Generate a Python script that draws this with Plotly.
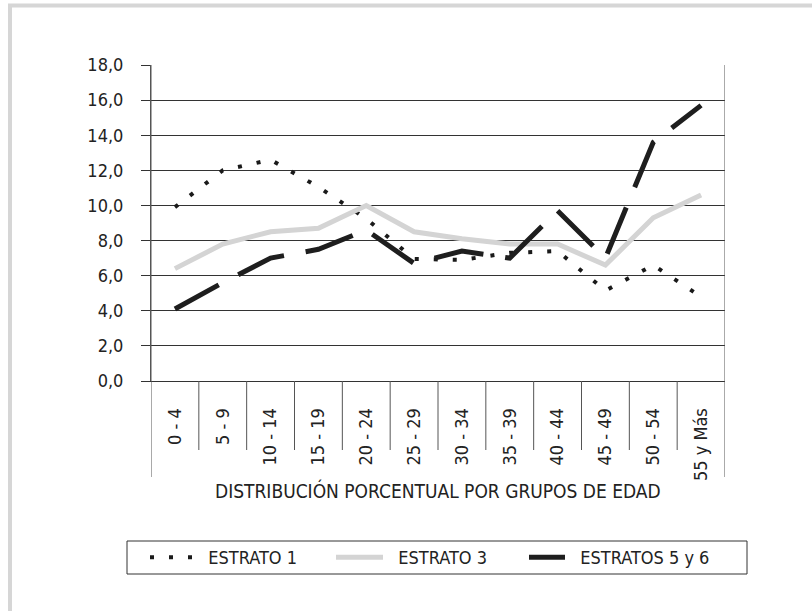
import plotly.graph_objects as go

# Age groups (x categories) and share of population per group (%)
age_groups = ["0 - 4", "5 - 9", "10 - 14", "15 - 19", "20 - 24", "25 - 29",
              "30 - 34", "35 - 39", "40 - 44", "45 - 49", "50 - 54", "55 y Más"]
estrato_1 = [9.9, 12.0, 12.6, 11.05, 9.25, 6.95, 6.9, 7.3, 7.4, 5.15, 6.6, 4.8]
estrato_3 = [6.4, 7.8, 8.5, 8.7, 10.0, 8.5, 8.1, 7.8, 7.8, 6.6, 9.3, 10.6]
estratos_5_6 = [4.1, 5.6, 7.0, 7.5, 8.6, 6.7, 7.4, 7.0, 9.7, 7.0, 13.6, 15.7]

series_names = ["ESTRATO 1", "ESTRATO 3", "ESTRATOS 5 y 6"]
y_ticks = [0, 2, 4, 6, 8, 10, 12, 14, 16, 18]

FONT = "DejaVu Sans Condensed, Liberation Sans Narrow, sans-serif"
INK = "#222222"
PAD = "\u00a0\u00a0"  # a little extra room between legend swatch and text

fig = go.Figure()

fig.add_trace(go.Scatter(
    x=age_groups, y=estrato_1, mode="lines", name=PAD + series_names[0],
    line=dict(color="#1a1a1a", width=4, dash="4px,15px"),
    legend="legend",
))
fig.add_trace(go.Scatter(
    x=age_groups, y=estrato_3, mode="lines", name=PAD + series_names[1],
    line=dict(color="#d4d4d4", width=5),
    legend="legend2",
))
fig.add_trace(go.Scatter(
    x=age_groups, y=estratos_5_6, mode="lines", name=PAD + series_names[2],
    line=dict(color="#1e1e1e", width=5, dash="50px,22px"),
    legend="legend3",
))

# plot area: x 151..725, y 65..381 in an 812x611 page
W, H = 812, 611
L, R, T, B = 151, 87, 65, 230
pw, ph = W - L - R, H - T - B


def px_x(p):
    return (p - L) / pw


def px_y(p):
    return (H - B - p) / ph


shapes = []
# category dividers below the axis
n = len(age_groups)
for i in range(n + 1):
    outer = i in (0, n)
    shapes.append(dict(
        type="line", xref="x", yref="paper",
        x0=i - 0.5, x1=i - 0.5,
        y0=1 if outer else 0, y1=px_y(477 if outer else 450),
        line=dict(color="#555555", width=1),
    ))
# light grey page frame (left and top)
shapes.append(dict(type="line", xref="paper", yref="paper",
                   x0=px_x(10), x1=px_x(10), y0=px_y(4), y1=px_y(H + 5),
                   line=dict(color="#d6d6d6", width=4)))
shapes.append(dict(type="line", xref="paper", yref="paper",
                   x0=px_x(8), x1=px_x(W + 5), y0=px_y(5.5), y1=px_y(5.5),
                   line=dict(color="#d6d6d6", width=4)))
# legend box
shapes.append(dict(type="rect", xref="paper", yref="paper",
                   x0=px_x(127), x1=px_x(747), y0=px_y(541), y1=px_y(574),
                   line=dict(color="#333333", width=1)))


def legend_at(x_px, item_w):
    return dict(
        orientation="h", x=px_x(x_px), xanchor="left",
        y=px_y(557.5), yanchor="middle",
        bgcolor="rgba(0,0,0,0)", borderwidth=0,
        itemwidth=item_w,
        font=dict(family=FONT, size=18, color=INK),
    )


fig.update_layout(
    width=W, height=H,
    margin=dict(l=L, r=R, t=T, b=B),
    paper_bgcolor="white", plot_bgcolor="white",
    separators=",.",
    showlegend=True,
    legend=legend_at(145, 43),
    legend2=legend_at(331, 47),
    legend3=legend_at(524, 36),
    shapes=shapes,
    annotations=[dict(
        text="DISTRIBUCIÓN PORCENTUAL POR GRUPOS DE EDAD",
        xref="paper", yref="paper", x=0.5, y=px_y(490),
        xanchor="center", yanchor="middle", showarrow=False,
        font=dict(family=FONT, size=19, color=INK),
    )],
)

fig.update_xaxes(
    type="category", categoryorder="array", categoryarray=age_groups,
    range=[-0.5, n - 0.5],
    showgrid=False, zeroline=False,
    showline=True, linecolor="#333333", linewidth=1,
    ticks="", tickangle=-90, ticklabelstandoff=19,
    tickfont=dict(family=FONT, size=18, color=INK),
)
fig.update_yaxes(
    range=[0, 18], tickvals=y_ticks, tickformat=".1f",
    showgrid=True, gridcolor="#333333", gridwidth=1,
    zeroline=False,
    showline=True, linecolor="#555555", linewidth=1,
    ticks="outside", ticklen=9, tickcolor="#333333",
    ticklabelstandoff=14,
    tickfont=dict(family=FONT, size=18, color=INK),
)

# page has no body margin, so the figure sits at the window origin
fig.write_html("out.html", config={"displayModeBar": False},
               post_script="document.body.style.margin='0px';")
